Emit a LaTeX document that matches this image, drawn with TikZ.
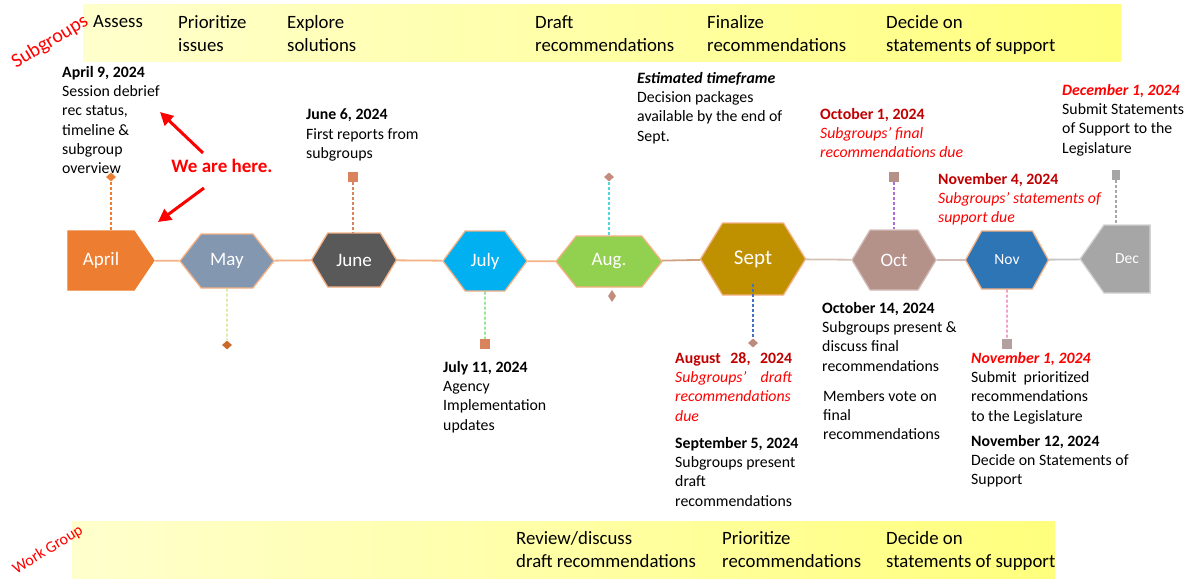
\documentclass[tikz,border=0pt]{standalone}
\usepackage{fontspec}
\setmainfont{Carlito}
\usetikzlibrary{shapes.symbols,shapes.geometric,arrows.meta}

\definecolor{barleft}{RGB}{255,255,205}
\definecolor{barright}{RGB}{255,255,125}
\definecolor{aprorange}{RGB}{237,125,49}
\definecolor{maygrey}{RGB}{132,151,176}
\definecolor{junegrey}{RGB}{89,89,89}
\definecolor{julyblue}{RGB}{0,176,240}
\definecolor{auggreen}{RGB}{146,208,80}
\definecolor{septgold}{RGB}{191,144,0}
\definecolor{octrose}{RGB}{180,145,137}
\definecolor{novblue}{RGB}{46,117,182}
\definecolor{decgrey}{RGB}{166,166,166}
\definecolor{salmon}{RGB}{244,177,131}
\definecolor{darkred}{RGB}{192,0,0}
\definecolor{brightred}{RGB}{255,0,0}
\definecolor{markbrown}{RGB}{217,130,91}
\definecolor{markrose}{RGB}{196,140,125}
\definecolor{markgrey}{RGB}{180,160,160}
\definecolor{maystem}{RGB}{200,226,120}
\definecolor{julystem}{RGB}{90,215,90}
\definecolor{augstem}{RGB}{80,214,224}
\definecolor{septstem}{RGB}{68,114,196}
\definecolor{octstem}{RGB}{170,110,220}
\definecolor{novstem}{RGB}{230,110,176}

\tikzset{
  month/.style={signal, signal to=east and west, draw=salmon, line width=1.3pt,
    text=white, inner sep=0pt, font=\fontsize{19}{22}\selectfont},
  txt/.style={anchor=north west, align=left, inner sep=0pt,
    font=\fontsize{15.8}{19.3}\selectfont, execute at begin node=\strut},
  bartxt/.style={anchor=north west, align=left, inner sep=0pt,
    font=\fontsize{18.8}{23}\selectfont, execute at begin node=\strut},
  stem/.style={dash pattern=on 3pt off 2pt, line width=1.1pt},
  dia/.style={diamond, fill=#1, inner sep=0pt, minimum width=10pt, minimum height=9pt},
  sqr/.style={rectangle, fill=#1, inner sep=0pt, minimum size=10pt},
  tl/.style={line width=1.8pt},
  redarrow/.style={-{Triangle[length=13pt,width=13pt]}, line width=3pt, brightred}
}

\begin{document}
\begin{tikzpicture}[x=1pt,y=-1pt]
\useasboundingbox (0,0) rectangle (1198,578);

% yellow bands
\shade[left color=barleft,right color=barright] (83,5) rectangle (1121,61);
\shade[left color=barleft,right color=barright] (72,521) rectangle (1055,578);

\node[rotate=31, text=brightred, font=\fontsize{20}{23}\selectfont] (subg) at (50,42) {Subgroups};
\node[rotate=32, text=brightred, font=\fontsize{16}{19}\selectfont] (workg) at (48,550) {Work Group};

% subgroup band
\node[bartxt] (s-assess) at (93,11) {Assess};
\node[bartxt] (s-prio) at (178,15) {Prioritize\\issues};
\node[bartxt] (s-expl) at (287,15) {Explore\\solutions};
\node[bartxt] (s-draft) at (535,15) {Draft\\recommendations};
\node[bartxt] (s-final) at (707,15) {Finalize\\recommendations};
\node[bartxt] (s-decide) at (886,15) {Decide on\\statements of support};

% work group band
\node[bartxt] (w-review) at (516,531) {Review/discuss\\draft recommendations};
\node[bartxt] (w-prio) at (722,531) {Prioritize\\recommendations};
\node[bartxt] (w-decide) at (886,531) {Decide on\\statements of support};

% months
\node[month, signal to=east, fill=aprorange, draw=aprorange, minimum width=86pt, minimum height=59pt, signal pointer angle=112] (april) at (101,260.5) {April};
\node[month, fill=maygrey, minimum width=94pt, minimum height=54pt, signal pointer angle=104] (may) at (227,261) {May};
\node[month, fill=junegrey, minimum width=85pt, minimum height=54pt, signal pointer angle=118] (june) at (354,260) {June};
\node[month, fill=julyblue, minimum width=84pt, minimum height=60pt, signal pointer angle=107] (july) at (485,261) {July};
\node[month, fill=auggreen, minimum width=106pt, minimum height=51pt, signal pointer angle=103] (aug) at (609,261.5) {Aug.};
\node[month, fill=septgold, minimum width=105pt, minimum height=72pt, signal pointer angle=117, font=\fontsize{21}{24}\selectfont] (sept) at (753,259) {Sept};
\node[month, fill=octrose, draw=octrose!60!white, minimum width=84pt, minimum height=60pt, signal pointer angle=118] (oct) at (894,260) {Oct};
\node[month, fill=novblue, minimum width=83pt, minimum height=58pt, signal pointer angle=122, font=\fontsize{15.5}{18}\selectfont] (nov) at (1007,260) {Nov};
\node[month, signal to=west, fill=decgrey, draw=decgrey!50!white, minimum width=70pt, minimum height=68pt, signal pointer angle=110, font=\fontsize{15.5}{18}\selectfont] (dec) at (1127,259) {Dec};

% timeline
\draw[tl, salmon] (april) -- (may);
\draw[tl, salmon] (may) -- (june);
\draw[tl, salmon] (june) -- (july);
\draw[tl, salmon] (july) -- (aug);
\draw[tl, salmon!70!gray] (aug) -- (sept);
\draw[tl, salmon!50!gray!60] (sept) -- (oct);
\draw[tl, octrose!60] (oct) -- (nov);
\draw[tl, gray!45] (nov) -- (dec);

% stems and markers
\node[dia=aprorange] (am) at (111,177) {};
\draw[stem, aprorange] (am) -- (april.north -| am);
\node[dia=aprorange!85!black] (mm) at (227,345) {};
\draw[stem, maystem] (may) -- (mm);
\node[sqr=markbrown] (jm) at (353,177) {};
\draw[stem, markbrown] (jm) -- (june.north -| jm);
\node[sqr=markbrown] (lm) at (485,344) {};
\draw[stem, julystem] (july) -- (lm);
\node[dia=markrose] (gm) at (609,177) {};
\draw[stem, augstem] (gm) -- (aug.north -| gm);
\node[dia=markrose, minimum width=8pt, minimum height=12pt] (gm2) at (612,296) {};
\node[dia=markrose!90!gray] (sm) at (753,343) {};
\draw[stem, septstem] ([yshift=-25pt]sept.center) -- (sm);
\node[sqr=octrose] (om) at (894,177) {};
\draw[stem, octstem] (om) -- (oct.north -| om);
\node[sqr=markgrey] (nm) at (1007,344) {};
\draw[stem, novstem] (nov) -- (nm);
\node[sqr=decgrey, minimum width=8pt] (dm) at (1116,175) {};
\draw[stem, decgrey] (dm) -- (dec.north -| dm);

% milestones
\node[txt] (t-apr) at (62,66) {\textbf{April 9, 2024}\\Session debrief\\rec status,\\timeline \&\\subgroup\\overview};
\node[txt] (t-jun) at (306,109) {\textbf{June 6, 2024}\\First reports from\\subgroups};
\node[txt] (t-est) at (637,72) {\textbf{\textit{Estimated timeframe}}\\Decision packages\\available by the end of\\Sept.};
\node[txt] (t-oct1) at (820,108) {\textcolor{darkred}{\textbf{October 1, 2024}}\\\textcolor{brightred}{\textit{Subgroups’ final}}\\\textcolor{brightred}{\textit{recommendations due}}};
\node[txt] (t-dec) at (1062,84) {\textcolor{brightred}{\textbf{\textit{December 1, 2024}}}\\Submit Statements\\of Support to the\\Legislature};
\node[txt] (t-nov4) at (938,173) {\textcolor{darkred}{\textbf{November 4, 2024}}\\\textcolor{brightred}{\textit{Subgroups’ statements of}}\\\textcolor{brightred}{\textit{support due}}};
\node[txt] (t-jul) at (443,361) {\textbf{July 11, 2024}\\Agency\\Implementation\\updates};
\node[txt] (t-aug) at (675,352) {\hbox to 117pt{\textcolor{darkred}{\textbf{August\hfil 28,\hfil 2024}}}\\\hbox to 117pt{\textcolor{brightred}{\textit{Subgroups’\hfil draft}}}\\\textcolor{brightred}{\textit{recommendations}}\\\textcolor{brightred}{\textit{due}}};
\node[txt] (t-sep) at (675,437) {\textbf{September 5, 2024}\\Subgroups present\\draft\\recommendations};
\node[txt] (t-oct14) at (822,302) {\textbf{October 14, 2024}\\Subgroups present \&\\discuss final\\recommendations};
\node[txt] (t-vote) at (823,390) {Members vote on\\final\\recommendations};
\node[txt] (t-nov1) at (971,352) {\textcolor{brightred}{\textbf{\textit{November 1, 2024}}}\\Submit\ \ prioritized\\recommendations\\to the Legislature};
\node[txt] (t-nov12) at (971,435) {\textbf{November 12, 2024}\\Decide on Statements of\\Support};

% we are here
\node[text=brightred, inner sep=0pt, font=\bfseries\fontsize{19}{22}\selectfont] (here) at (222,166) {We are here.};
\coordinate (tail1) at (203,153);
\coordinate (tip1) at (160,112);
\coordinate (tail2) at (204,188);
\coordinate (tip2) at (158,222);
\draw[redarrow] (tail1) -- (tip1);
\draw[redarrow] (tail2) -- (tip2);
\end{tikzpicture}
\end{document}
